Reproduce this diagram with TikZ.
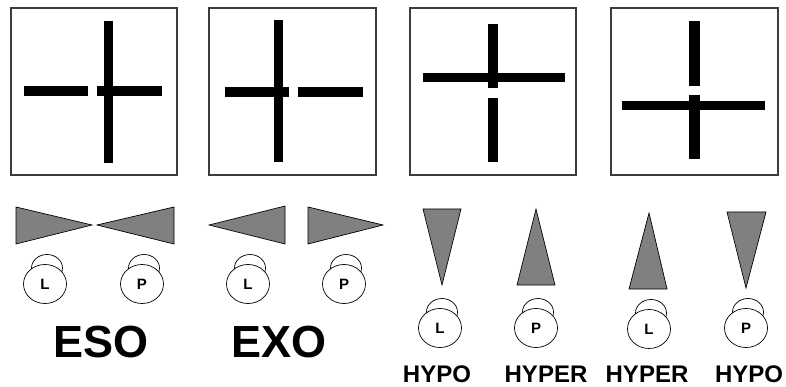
\documentclass[tikz,border=0pt]{standalone}
\usepackage{fontspec}
\setmainfont{Liberation Sans}
\usetikzlibrary{shapes.geometric}
\definecolor{wedgegray}{RGB}{128,128,128}
\definecolor{framegray}{RGB}{60,60,60}
\begin{document}
\begin{tikzpicture}[x=1pt,y=-1pt,
  frame/.style={draw=framegray,line width=1.3pt,fill=white},
  bar/.style={fill=black},
  wedge/.style={draw=black,line width=0.7pt,fill=wedgegray,line join=miter},
  eyeball/.style={ellipse,draw=black,line width=0.7pt,fill=white,minimum width=43pt,minimum height=39pt,inner sep=0pt,font=\bfseries\fontsize{15}{15}\selectfont},
  lid/.style={ellipse,draw=black,line width=0.7pt,fill=white,minimum width=31pt,minimum height=27pt,inner sep=0pt},
  bigname/.style={anchor=base,inner sep=0pt,text depth=0pt,font=\bfseries\fontsize{45}{45}\selectfont},
  smallname/.style={anchor=base,inner sep=0pt,text depth=0pt,font=\bfseries\fontsize{24}{24}\selectfont}]
\useasboundingbox (0,0) rectangle (786,387);
% frames
\draw[frame] (11,8) rectangle (177,175);
\draw[frame] (209,8) rectangle (376,175);
\draw[frame] (410,8) rectangle (576,175);
\draw[frame] (611,8) rectangle (778,175);
% box 1 (ESO)
\fill[bar] (24,86) rectangle (88,96);
\fill[bar] (97,86) rectangle (162,96);
\fill[bar] (104,21) rectangle (113,163);
% box 2 (EXO)
\fill[bar] (225,87) rectangle (289,97);
\fill[bar] (298,87) rectangle (363,97);
\fill[bar] (274,20) rectangle (283,162);
% box 3 (HYPO/HYPER)
\fill[bar] (423,73) rectangle (565,82);
\fill[bar] (488,24) rectangle (498,88);
\fill[bar] (488,98) rectangle (498,162);
% box 4 (HYPER/HYPO)
\fill[bar] (622,101) rectangle (765,110);
\fill[bar] (689,21) rectangle (700,86);
\fill[bar] (689,95) rectangle (700,159);
% wedges
\draw[wedge] (16,207) -- (16,244) -- (92,225) -- cycle;
\draw[wedge] (174,207) -- (174,244) -- (97,225) -- cycle;
\draw[wedge] (285,206) -- (285,244) -- (209,225) -- cycle;
\draw[wedge] (308,207) -- (308,244) -- (383,225) -- cycle;
\draw[wedge] (423,209) -- (461,209) -- (442,285) -- cycle;
\draw[wedge] (517,285) -- (555,285) -- (536,209) -- cycle;
\draw[wedge] (629,289) -- (667,289) -- (649,213) -- cycle;
\draw[wedge] (727,212) -- (766,212) -- (746,288) -- cycle;
% eyes: lids first, then eyeballs
\node[lid] (lid1) at (47,268) {};
\node[lid] (lid2) at (144,268) {};
\node[lid] (lid3) at (250,268) {};
\node[lid] (lid4) at (346,268) {};
\node[lid] (lid5) at (442,312) {};
\node[lid] (lid6) at (538,312) {};
\node[lid] (lid7) at (651,313) {};
\node[lid] (lid8) at (748,312) {};
\node[eyeball] (eye1) at (45,284) {L};
\node[eyeball] (eye2) at (142,284) {P};
\node[eyeball] (eye3) at (248,284) {L};
\node[eyeball] (eye4) at (344,284) {P};
\node[eyeball] (eye5) at (440,328) {L};
\node[eyeball] (eye6) at (536,328) {P};
\node[eyeball] (eye7) at (649,329) {L};
\node[eyeball] (eye8) at (746,328) {P};
% labels
\node[bigname] (eso) at (101,357) {ESO};
\node[bigname] (exo) at (279,357) {EXO};
\node[smallname] (hypo1) at (437,382) {HYPO};
\node[smallname] (hyper1) at (546,382) {HYPER};
\node[smallname] (hyper2) at (647,382) {HYPER};
\node[smallname] (hypo2) at (749,382) {HYPO};
\end{tikzpicture}
\end{document}
